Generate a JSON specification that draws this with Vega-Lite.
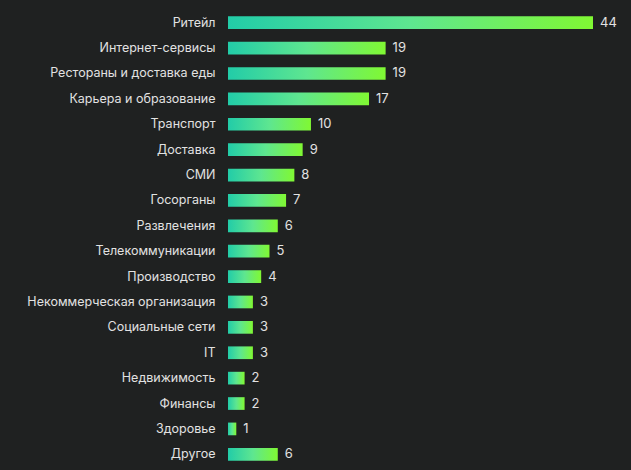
{
  "$schema": "https://vega.github.io/schema/vega-lite/v6.json",
  "width": 365,
  "height": 457,
  "autosize": "none",
  "padding": {"left": 228, "top": 10, "right": 38, "bottom": 3},
  "background": "#1f2121",
  "data": {
    "values": [
      {"category": "Ритейл", "count": 44},
      {"category": "Интернет-сервисы", "count": 19},
      {"category": "Рестораны и доставка еды", "count": 19},
      {"category": "Карьера и образование", "count": 17},
      {"category": "Транспорт", "count": 10},
      {"category": "Доставка", "count": 9},
      {"category": "СМИ", "count": 8},
      {"category": "Госорганы", "count": 7},
      {"category": "Развлечения", "count": 6},
      {"category": "Телекоммуникации", "count": 5},
      {"category": "Производство", "count": 4},
      {"category": "Некоммерческая организация", "count": 3},
      {"category": "Социальные сети", "count": 3},
      {"category": "IT", "count": 3},
      {"category": "Недвижимость", "count": 2},
      {"category": "Финансы", "count": 2},
      {"category": "Здоровье", "count": 1},
      {"category": "Другое", "count": 6}
    ]
  },
  "encoding": {
    "y": {
      "field": "category",
      "type": "nominal",
      "sort": null,
      "scale": {"paddingInner": 0.5, "paddingOuter": 0.25},
      "axis": {
        "title": null,
        "ticks": false,
        "domain": false,
        "labelPadding": 13,
        "labelLimit": 0,
        "labelFont": "Inter",
        "labelFontSize": 12.5,
        "labelColor": "#e2e2e2"
      }
    },
    "x": {
      "field": "count",
      "type": "quantitative",
      "scale": {"domain": [0, 44], "nice": false},
      "axis": null
    }
  },
  "layer": [
    {
      "mark": {
        "type": "bar",
        "color": {
          "gradient": "linear",
          "stops": [
            {"offset": 0, "color": "#22cca8"},
            {"offset": 0.5, "color": "#5ee690"},
            {"offset": 1, "color": "#80f833"}
          ]
        }
      }
    },
    {
      "mark": {
        "type": "text",
        "align": "left",
        "baseline": "middle",
        "dx": 7,
        "font": "Inter",
        "fontSize": 13,
        "color": "#e2e2e2"
      },
      "encoding": {"text": {"field": "count", "type": "quantitative"}}
    }
  ],
  "config": {"view": {"stroke": null}, "axis": {"grid": false}}
}
